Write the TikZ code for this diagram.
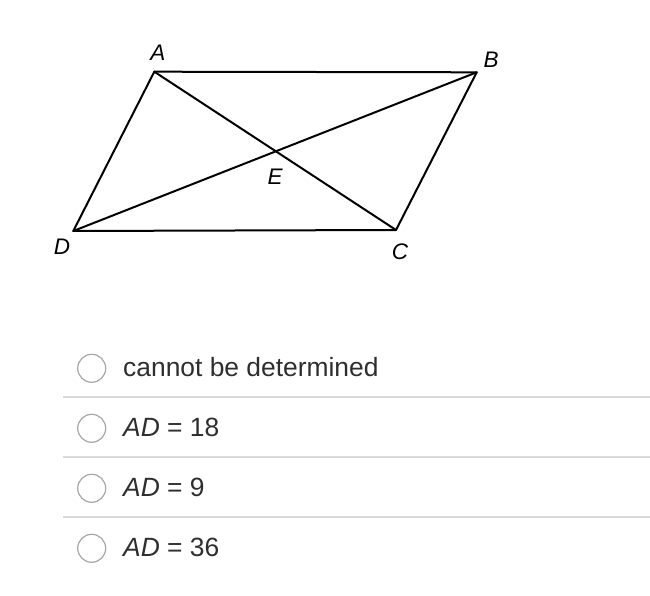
\documentclass[tikz,border=0pt]{standalone}
\usepackage{fontspec}
\setmainfont{Liberation Sans}
\begin{document}
\begin{tikzpicture}[x=1pt,y=-1pt,
  edge/.style={line width=2pt,line join=round,line cap=round},
  vlabel/.style={font=\fontsize{22.5}{26}\selectfont\itshape,inner sep=0pt},
  opt/.style={font=\fontsize{26.4}{30}\selectfont,text=black!82,anchor=west,inner sep=0pt},
  radio/.style={circle,draw=black!35,line width=1.2pt,fill=white,minimum size=28pt,inner sep=0pt},
  sep/.style={draw=black!15,line width=2pt}]
\useasboundingbox (0,0) rectangle (650,596);
\coordinate (A) at (154.3,71.7);
\coordinate (B) at (476.7,72.3);
\coordinate (C) at (396,230);
\coordinate (D) at (73.3,231);
\draw[edge] (A) -- (B) -- (C) -- (D) -- cycle;
\draw[edge] (A) -- (C);
\draw[edge] (B) -- (D);
\node[vlabel] (lA) at (158,53) {A};
\node[vlabel] (lB) at (491,60) {B};
\node[vlabel] (lC) at (400,252) {C};
\node[vlabel] (lD) at (62,247) {D};
\node[vlabel] (lE) at (275,177) {E};
% options
\node[radio] (r1) at (91.7,368.3) {};
\node[radio] (r2) at (91.7,428.3) {};
\node[radio] (r3) at (91.7,488.3) {};
\node[radio] (r4) at (91.7,548.3) {};
\node[opt] (t1) at (123,367) {cannot be determined};
\node[opt] (t2) at (123,427) {\textit{AD} = 18};
\node[opt] (t3) at (123,487) {\textit{AD} = 9};
\node[opt] (t4) at (123,547) {\textit{AD} = 36};
\coordinate (s1a) at (63,397.3); \coordinate (s1b) at (650,397.3);
\coordinate (s2a) at (63,457.3); \coordinate (s2b) at (650,457.3);
\coordinate (s3a) at (63,516.7); \coordinate (s3b) at (650,516.7);
\draw[sep] (s1a) -- (s1b);
\draw[sep] (s2a) -- (s2b);
\draw[sep] (s3a) -- (s3b);
\end{tikzpicture}
\end{document}
